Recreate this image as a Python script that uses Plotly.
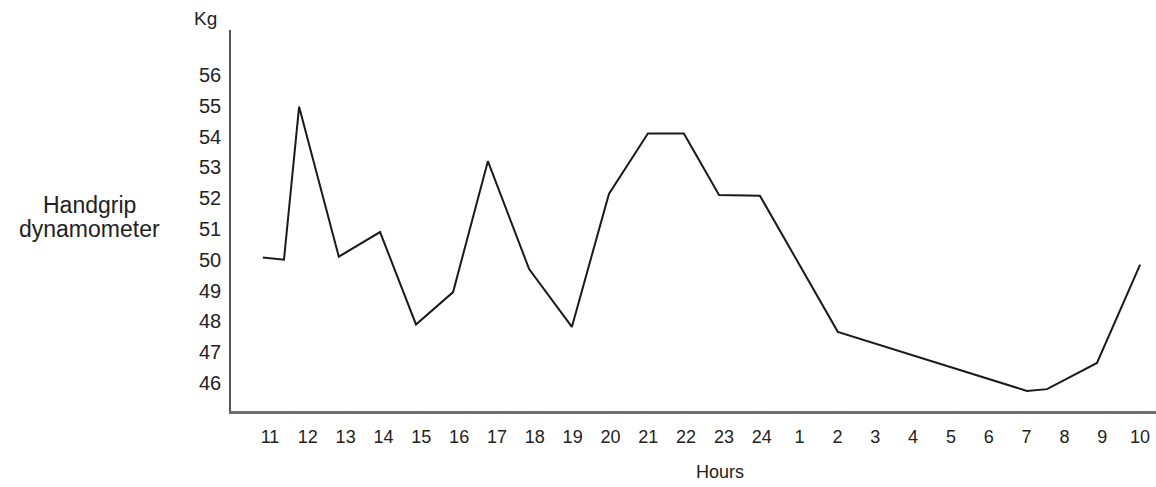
import plotly.graph_objects as go

# Hour labels along the x axis (positions 0..23)
hour_labels = ["11", "12", "13", "14", "15", "16", "17", "18", "19", "20", "21", "22",
               "23", "24", "1", "2", "3", "4", "5", "6", "7", "8", "9", "10"]
hour_positions = list(range(len(hour_labels)))

# Vertices of the curve (x in hour-slot units, y in kg)
curve_x = [-0.19, 0.37, 0.77, 1.82, 2.91, 3.86, 4.84, 5.76, 6.85, 7.98,
           8.96, 9.99, 10.94, 11.87, 12.95, 15.01, 20.01, 20.54, 21.86, 23.0]
curve_kg = [50.07, 50.0, 54.97, 50.1, 50.9, 47.9, 48.95, 53.2, 49.7, 47.82,
            52.14, 54.1, 54.1, 52.1, 52.08, 47.66, 45.74, 45.8, 46.65, 49.84]

kg_ticks = [46, 47, 48, 49, 50, 51, 52, 53, 54, 55, 56]

FONT = "Liberation Sans, Arial, Helvetica, sans-serif"
TXT = "#222222"

fig = go.Figure()
fig.add_trace(go.Scatter(
    x=curve_x, y=curve_kg, mode="lines",
    line=dict(color="#1a1a1a", width=2),
    showlegend=False, hoverinfo="skip",
))

fig.update_layout(
    width=1156, height=487,
    margin=dict(l=231, r=0, t=30, b=76),
    paper_bgcolor="white", plot_bgcolor="white",
    font=dict(family=FONT, color=TXT),
    xaxis=dict(
        range=[-1.03, 23.42],
        tickmode="array", tickvals=hour_positions, ticktext=hour_labels,
        showgrid=False, zeroline=False,
        showline=True, linecolor="#6e6e6e", linewidth=2.5,
        ticks="outside", ticklen=8, tickcolor="rgba(0,0,0,0)",
        tickfont=dict(size=18, family=FONT, color=TXT),
    ),
    yaxis=dict(
        range=[45.09, 57.46],
        tickmode="array", tickvals=kg_ticks,
        showgrid=False, zeroline=False,
        showline=True, linecolor="#555555", linewidth=1.5,
        ticks="outside", ticklen=4, tickcolor="rgba(0,0,0,0)",
        tickfont=dict(size=20, family=FONT, color=TXT),
    ),
    annotations=[
        dict(text="Hours", xref="paper", yref="paper", x=0.529, y=-0.16,
             xanchor="center", yanchor="middle", showarrow=False,
             font=dict(size=18, family=FONT, color=TXT)),
        dict(text="Kg", xref="paper", yref="paper", x=-0.028, y=1.031,
             xanchor="center", yanchor="middle", showarrow=False,
             font=dict(size=19, family=FONT, color=TXT)),
        dict(text="Handgrip", xref="paper", yref="paper",
             x=-0.1535, y=0.540, xanchor="center", yanchor="middle",
             showarrow=False, font=dict(size=23, family=FONT, color=TXT)),
        dict(text="dynamometer", xref="paper", yref="paper",
             x=-0.1535, y=0.478, xanchor="center", yanchor="middle",
             showarrow=False, font=dict(size=23, family=FONT, color=TXT)),
    ],
)

fig.write_html(
    "out.html",
    config={"displayModeBar": False},
    post_script="document.body.style.margin='0px';"
                "document.documentElement.style.overflow='hidden';",
)
